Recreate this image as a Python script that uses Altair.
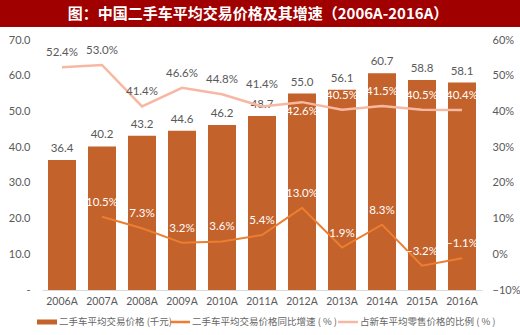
import altair as alt
import pandas as pd

years = ["2006A", "2007A", "2008A", "2009A", "2010A", "2011A", "2012A", "2013A", "2014A", "2015A", "2016A"]
price = [36.4, 40.2, 43.2, 44.6, 46.2, 48.7, 55.0, 56.1, 60.7, 58.8, 58.1]
growth = [None, 10.5, 7.3, 3.2, 3.6, 5.4, 13.0, 1.9, 8.3, -3.2, -1.1]
ratio = [52.4, 53.0, 41.4, 46.6, 44.8, 41.4, 42.6, 40.5, 41.5, 40.5, 40.4]

title_text = "图：中国二手车平均交易价格及其增速（2006A-2016A）"
legend_labels = ["二手车平均交易价格 (千元)", "二手车平均交易价格同比增速 ( % )", "占新车平均零售价格的比例 ( % )"]

BAR = "#C4622B"
ORANGE = "#ED7D31"
PINK = "#F7B8A3"
GRAY = "#595959"
FONT = "Noto Sans CJK SC"
NUM = "Lato"

df = pd.DataFrame({"year": years, "price": price, "growth": growth, "ratio": ratio})

X_AXIS = alt.Axis(labelAngle=0, labelColor=GRAY, labelFontSize=10.5, labelFont=NUM,
                  domainColor="#D9D9D9", ticks=False, labelPadding=6, grid=False)
X_SCALE = alt.Scale(paddingInner=0.3, paddingOuter=0.15)
L_AXIS = alt.Axis(values=[0, 10, 20, 30, 40, 50, 60, 70], grid=False, domain=False, ticks=False,
                  labelColor=GRAY, labelFontSize=11, labelFont=NUM, labelPadding=12,
                  labelExpr="datum.value == 0 ? '-' : format(datum.value, '.1f')")
R_AXIS = alt.Axis(orient="right", values=[-10, 0, 10, 20, 30, 40, 50, 60], grid=False,
                  domain=False, ticks=False, labelColor=GRAY, labelFontSize=11,
                  labelFont=NUM, labelPadding=10,
                  labelExpr="format(datum.value, 'd') + '%'")
yl = alt.Scale(domain=[0, 70])
yr = alt.Scale(domain=[-10, 60])


def X():
    return alt.X("year:N", sort=years, title=None, scale=X_SCALE, axis=X_AXIS)


def YL(f):
    return alt.Y(f, scale=yl, title=None, axis=L_AXIS)


def YR(f):
    return alt.Y(f, scale=yr, title=None, axis=R_AXIS)


base = alt.Chart(df)

bars = base.mark_bar(color=BAR).encode(x=X(), y=YL("price:Q"))
bar_labels = base.mark_text(dy=-11, color=GRAY, fontSize=11.5, font=NUM).encode(
    x=X(), y=YL("price:Q"), text=alt.Text("price:Q", format=".1f"))

one = alt.Chart(alt.Data(values=[{"a": 1}]))

title_bg = one.mark_rect(color="#A00000").encode(
    x=alt.value(-42), x2=alt.value(478), y=alt.value(-40), y2=alt.value(-13))
title = one.mark_text(color="white", fontSize=15, fontWeight="bold", font=FONT).encode(
    x=alt.value(216), y=alt.value(-26), text=alt.value(title_text))

legend_layers = []
sw = [(-5, 15, BAR, 5), (128, 148, ORANGE, 2.5), (296, 316, PINK, 2.5)]
for (x0, x1, c, h), lab in zip(sw, legend_labels):
    legend_layers.append(one.mark_rect(color=c).encode(
        x=alt.value(x0), x2=alt.value(x1), y=alt.value(282 - h / 2), y2=alt.value(282 + h / 2)))
    legend_layers.append(one.mark_text(align="left", color="#666666", fontSize=9.5, font=FONT).encode(
        x=alt.value(x1 + 2), y=alt.value(282), text=alt.value(lab)))

left = alt.layer(bars, bar_labels, title_bg, title, *legend_layers)

ratio_line = base.mark_line(color=PINK, strokeWidth=2.5).encode(x=X(), y=YR("ratio:Q"))
growth_line = base.transform_filter("datum.growth != null").mark_line(color=ORANGE, strokeWidth=2).encode(
    x=X(), y=YR("growth:Q"))

white_years = years[6:]


def ratio_text(sel, dy):
    return base.transform_filter(alt.FieldOneOfPredicate(field="year", oneOf=sel)).transform_calculate(
        lab="format(datum.ratio, '.1f') + '%'"
    ).mark_text(dy=dy, fontSize=11.5, font=NUM).encode(
        x=X(), y=YR("ratio:Q"), text="lab:N",
        color=alt.condition(alt.FieldOneOfPredicate(field="year", oneOf=white_years),
                            alt.value("white"), alt.value(GRAY)))


rt1 = ratio_text(years[0:5] + years[7:], -14)
rt2 = ratio_text([years[5]], -21)
rt3 = ratio_text([years[6]], 10)

growth_text = base.transform_filter("datum.growth != null").transform_calculate(
    lab="format(datum.growth, '.1f') + '%'"
).mark_text(dy=-14, fontSize=11.5, font=NUM, color="white").encode(
    x=X(), y=YR("growth:Q"), text="lab:N")

right = alt.layer(ratio_line, growth_line, rt1, rt2, rt3, growth_text)

chart = alt.layer(left, right).resolve_scale(y="independent").properties(
    width=440, height=250,
    autosize=alt.AutoSizeParams(type="none"),
    padding={"left": 42, "top": 40, "right": 38, "bottom": 45},
    background="white",
).configure_view(stroke=None)

chart.save("out.html", embed_options={"renderer": "svg", "actions": False})
